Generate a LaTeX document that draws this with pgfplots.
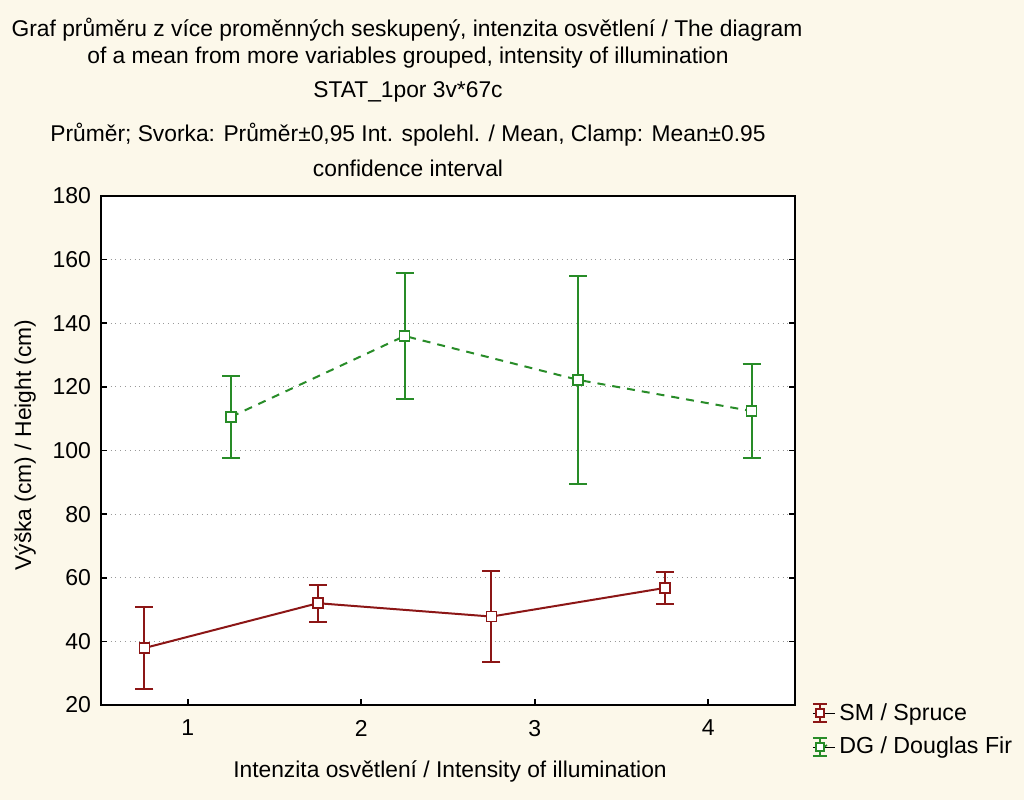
\documentclass[border=0pt]{standalone}
\usepackage{pgfplots}
\pgfplotsset{compat=1.18}
\usepackage{fontspec}
\setmainfont{Liberation Sans}
\definecolor{bg}{RGB}{252,248,234}
\definecolor{smred}{RGB}{140,22,22}
\definecolor{dggreen}{RGB}{40,140,40}
\pgfplotstableread{
x y e
0.75 37.9 12.9
1.75 52.0 5.8
2.75 47.8 14.2
3.75 56.8 5.0
}\smdata
\pgfplotstableread{
x y e
1.25 110.6 12.9
2.25 136.0 19.8
3.25 122.2 32.7
4.25 112.4 14.9
}\dgdata
\begin{document}
\begin{tikzpicture}[x=1pt,y=1pt]
\fill[bg] (0,0) rectangle (512,400);
\useasboundingbox (0,0) rectangle (512,400);
\begin{scope}[every node/.style={font=\fontsize{11.4}{13}\selectfont, inner sep=0pt}]
\node at (203.5,385) {Graf průměru z více proměnných seskupený, intenzita osvětlení / The diagram};
\node at (204,371) {of a mean from more variables grouped, intensity of illumination};
\node at (204,354) {STAT\_1por 3v*67c};
\node at (204,332.5) {Průměr; Svorka: Průměr±0,95 Int. spolehl. / Mean, Clamp: Mean±0.95};
\node at (204,316) {confidence interval};
\node[rotate=90] at (12.5,177.5) {Výška (cm) / Height (cm)};
\node at (225,14.5) {Intenzita osvětlení / Intensity of illumination};
\end{scope}
\begin{axis}[
  at={(50.5pt,47.5pt)}, anchor=south west,
  scale only axis, width=347pt, height=254.5pt,
  xmin=0.5, xmax=4.5, ymin=20, ymax=180,
  xtick={1,2,3,4}, ytick={20,40,...,180},
  xtick pos=lower, ytick pos=both,
  tick align=inside, major tick length=3pt,
  axis line style={line width=1pt, black},
  every tick/.style={black, line width=0.8pt},
  axis background/.style={fill=white},
  ymajorgrids,
  major grid style={dotted, gray!80, line width=0.6pt},
  tick label style={font=\fontsize{11.5}{12}\selectfont},
  /pgf/number format/assume math mode=true,
  xticklabel style={yshift=-4pt},
  yticklabel style={xshift=-1.5pt},
  legend style={draw=none, fill=none, at={(axis description cs:1.024,0.012)}, anchor=north west,
    font=\fontsize{11.6}{13}\selectfont, row sep=3pt, inner sep=0pt, cells={anchor=west}},
]
\addplot[forget plot, smred, line width=1pt, mark=square*, mark size=2.5pt,
  mark options={fill=white, solid, line width=0.8pt},
  error bars/.cd, y dir=both, y explicit,
  error bar style={line width=1pt, solid},
  error mark options={rotate=90, mark size=4.5pt, line width=1pt, smred}]
  table[x=x, y=y, y error=e] {\smdata};
\addplot[forget plot, dggreen, line width=1pt, dash pattern=on 4pt off 3.5pt, mark=square*, mark size=2.5pt,
  mark options={fill=white, solid, line width=0.8pt},
  error bars/.cd, y dir=both, y explicit,
  error bar style={line width=1pt, solid},
  error mark options={rotate=90, mark size=4.5pt, line width=1pt, dggreen}]
  table[x=x, y=y, y error=e] {\dgdata};
\addlegendimage{legend image code/.code={
  \path (0pt,0pt) -- (11pt,0pt);
  \draw[smred, line width=0.9pt] (3.5pt,-4.5pt) -- (3.5pt,4.5pt) (0pt,4.5pt) -- (7pt,4.5pt) (0pt,-4.5pt) -- (7pt,-4.5pt);
  \draw[smred, line width=0.8pt, fill=white] (1.5pt,-2pt) rectangle (5.5pt,2pt);}}
\addlegendentry{SM / Spruce}
\addlegendimage{legend image code/.code={
  \path (0pt,0pt) -- (11pt,0pt);
  \draw[dggreen, line width=0.9pt] (3.5pt,-4.5pt) -- (3.5pt,4.5pt) (0pt,4.5pt) -- (7pt,4.5pt) (0pt,-4.5pt) -- (7pt,-4.5pt);
  \draw[dggreen, line width=0.8pt] (5.5pt,0pt) -- (7pt,1pt);
  \draw[dggreen, line width=0.8pt, fill=white] (1.5pt,-2pt) rectangle (5.5pt,2pt);}}
\addlegendentry{DG / Douglas Fir}
\end{axis}
\end{tikzpicture}
\end{document}
